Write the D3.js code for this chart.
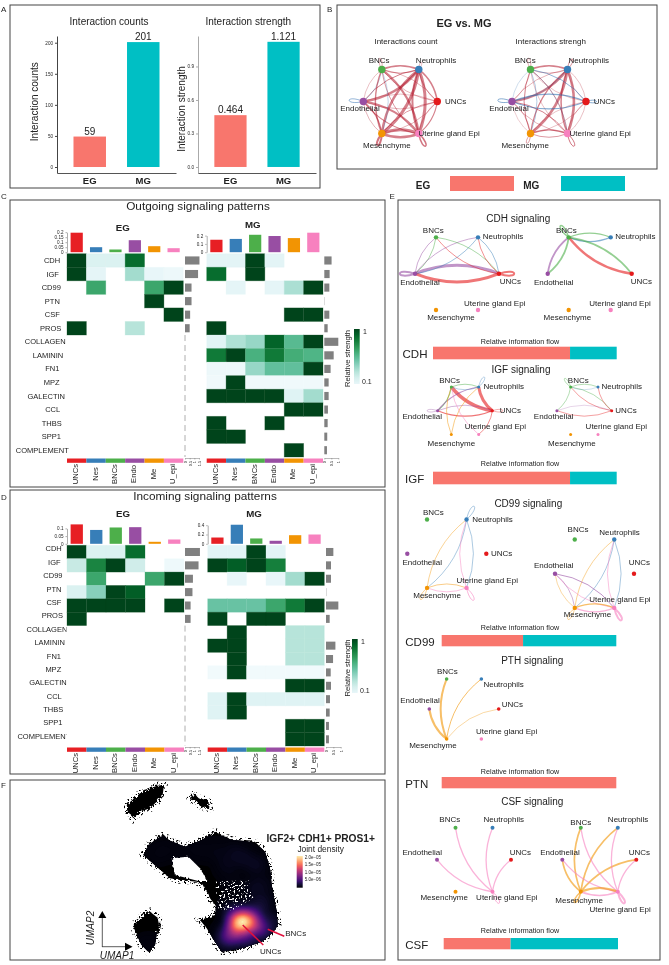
<!DOCTYPE html>
<html>
<head>
<meta charset="utf-8">
<script src="https://cdn.jsdelivr.net/npm/d3@7"></script>
<style>
body { margin: 0; background: #fff; }
svg { display: block; font-family: "Liberation Sans", Arial, sans-serif; filter: blur(0.3px); }
text { fill: #222; }
</style>
</head>
<body>
<script>
// ---- panel A
var groups = ["EG", "MG"];
var groupColors = ["#F8766D", "#00BFC4"];
var countBars = [49, 201];
var countLabels = ["59", "201"];
var strengthBars = [0.464, 1.121];
var strengthLabels = ["0.464", "1.121"];

// ---- panels C, D
var cellTypes = ["UNCs", "Nes", "BNCs", "Endo", "Me", "U_epi"];
var cellColors = ["#E71F24", "#377EB8", "#4DAF4A", "#984EA3", "#F29403", "#F781BF"];
var signals = ["CDH", "IGF", "CD99", "PTN", "CSF", "PROS", "COLLAGEN", "LAMININ", "FN1", "MPZ", "GALECTIN", "CCL", "THBS", "SPP1", "COMPLEMENT"];

var outEG = [
  [1, .17, .17, .87, 0, 0],
  [1, .12, 0, .35, .1, .07],
  [0, .65, 0, 0, .65, 1],
  [0, 0, 0, 0, 1, 0],
  [0, 0, 0, 0, 0, 1],
  [1, 0, 0, .3, 0, 0]
];
var outEGTop = [.195, .05, .027, .12, .06, .04];
var outEGRight = [1.55, 1.4, .7, .7, .55, .5];

var outMG = [
  [.13, .13, 1, .13, 0, 0],
  [.87, 0, 1, 0, 0, 0],
  [0, .12, 0, .12, .33, 1],
  [0, 0, 0, 0, 0, 0],
  [0, 0, 0, 0, 1, 1],
  [1, 0, 0, 0, 0, 0],
  [.14, .32, .38, .9, .55, 1],
  [.82, 1, .6, .82, .62, .58],
  [.07, .07, .38, .52, .52, 1],
  [.05, 1, .05, .05, .05, .05],
  [1, 1, 1, 1, .15, .35],
  [0, 0, 0, 0, 1, 1],
  [1, 0, 0, 1, 0, 0],
  [1, 1, 0, 0, 0, 0],
  [0, 0, 0, 0, 1, 0]
];
var outMGTop = [.15, .16, .21, .195, .17, .235];
var outMGRight = [.52, .38, .36, .02, .36, .24, 1, .67, .45, .31, .31, .26, .24, .21, .19];

var inEG = [
  [1, .17, .17, .87, 0, 0],
  [.25, .78, 1, .22, 0, .06],
  [0, .65, 0, 0, .65, 1],
  [.17, .42, 1, .92, 0, 0],
  [1, 1, 1, 1, 0, 1],
  [1, 0, 0, 0, 0, 0]
];
var inEGTop = [.126, .09, .106, .108, .013, .028];
var inEGRight = [1.6, 1.45, .85, .8, .6, .6];

var inMG = [
  [.13, .13, 1, .13, 0, 0],
  [1, .92, 1, .8, 0, 0],
  [0, .1, 0, .1, .35, 1],
  [0, 0, 0, 0, 0, 0],
  [.5, .5, .5, .65, .82, 1],
  [1, 0, 1, 1, 0, 0],
  [0, 1, 0, 0, .3, .3],
  [1, 1, 0, 0, .3, .3],
  [0, 1, 0, 0, .3, .3],
  [.04, 1, .04, .04, .04, .04],
  [0, 0, 0, 0, 1, 1],
  [.15, 1, .15, .15, .15, .15],
  [.15, 1, 0, 0, 0, 0],
  [0, 0, 0, 0, 1, 1],
  [0, 0, 0, 0, 1, 1]
];
var inMGTop = [.135, .41, .115, .065, .185, .2];
var inMGRight = [.5, .34, .34, .02, .84, .25, 0, .64, .48, .32, .34, .27, .25, .2, .2];

// ---- networks, edges are [source, target, width], negative = decreased (blue)
var nodeNames = ["UNCs", "Neutrophils", "BNCs", "Endothelial", "Mesenchyme", "Uterine gland Epi"];
var nodeColors = ["#E41A1C", "#377EB8", "#4DAF4A", "#984EA3", "#F29403", "#F781BF"];
var nodeAngles = [0, 60, 120, 180, 240, 300];

var countEdges = [[1,4,3],[4,1,2.4],[1,5,3],[5,1,2],[1,3,2.4],[3,1,1],[2,5,2.2],[5,2,.8],[3,5,2.2],[5,3,1.2],[4,5,3],[5,4,2.4],[2,1,1.6],[1,2,.8],[1,0,1.6],[0,1,.8],[0,5,1.2],[5,0,.6],[4,0,.8],[0,4,.6],[0,2,.6],[2,0,.6],[0,3,.6],[3,0,.5],[3,4,1.2],[4,3,.6],[2,3,-.5],[3,2,.5],[2,4,-.5],[4,2,1.4]];
var countLoops = [[2,.6,100,12],[3,-.8,175,15],[4,2,250,13],[5,1.5,298,15],[1,.5,70,8]];
var strengthEdges = [[1,4,2.6],[1,3,2.2],[3,1,.6],[1,5,2.6],[5,1,1.5],[2,5,.8],[5,2,.5],[4,1,1.2],[2,1,1.4],[1,2,.6],[3,5,1],[5,3,.6],[4,5,1.2],[5,4,.8],[3,4,.6],[4,3,.4],[1,0,.5],[0,1,.4],[0,5,.5],[5,0,.5],[0,4,.5],[4,0,.5],[2,4,-.6],[4,2,1],[3,2,-.4],[2,3,.4],[2,0,-.9],[0,2,.5],[3,0,-1.2],[0,3,-1.2],[2,5,-.4],[1,3,-.5]];
var strengthLoops = [[2,.6,100,12],[1,.8,65,12],[3,-.9,175,15],[0,-.9,0,11],[4,.7,250,11],[5,1,298,15]];

var cdhEGEdges = [[3,0,3],[0,3,3],[2,3,.8],[3,2,.8],[1,3,.8],[3,1,.8],[2,0,.8],[0,2,.8],[1,0,.8],[0,1,.8]];
var cdhEGLoops = [[3,2,180,16],[0,2,0,16]];
var cdhMGEdges = [[2,1,1.2],[1,2,1.2],[2,3,1.8],[3,2,1.8],[2,0,1.8],[0,2,2.4]];
var cdhMGLoops = [[2,1.4,125,15]];
var igfEGEdges = [[0,2,3.6],[0,1,3],[2,3,1.2],[3,1,1.2],[0,3,1.2],[3,0,.7],[2,1,.8],[1,2,.6],[4,1,.8],[4,2,.8],[5,2,.8],[0,5,.8]];
var igfEGLoops = [[1,.6,60,12],[3,.6,180,11],[0,.6,0,11]];
var igfMGEdges = [[2,0,.7],[0,2,.7],[2,1,.7],[1,2,.4],[0,1,.7],[2,3,.7],[0,3,.7],[3,0,.4]];
var igfMGLoops = [[2,.7,125,11]];
var cd99EGEdges = [[1,4,.7],[4,1,.7],[1,5,.7],[5,1,.8],[4,5,.8],[5,4,.8]];
var cd99EGLoops = [[1,.7,60,16],[5,1,300,15],[4,.7,240,14]];
var cd99MGEdges = [[1,4,.7],[4,1,.7],[1,5,.7],[5,1,.8],[3,5,1],[5,3,.8],[3,4,.7],[4,3,.6],[4,5,1.2],[5,4,1.2]];
var cd99MGLoops = [[5,2,300,15],[4,.7,240,14]];
var ptnEGEdges = [[4,2,2],[4,3,2],[4,1,1],[4,0,.6]];
var csfEGEdges = [[5,2,1.3],[5,1,1.3],[5,3,1.3],[5,0,1.3]];
var csfEGLoops = [[5,1,300,14]];
var csfMGEdges = [[4,2,1.7],[4,1,1.7],[4,3,1.7],[4,0,1.7],[5,2,1.3],[5,1,1.3],[5,3,1.3],[5,0,1.3],[4,5,2],[5,4,1.5]];
var csfMGLoops = [[5,2,300,14],[4,1.5,240,13]];

// share of the information flow held by EG
var flowNames = ["CDH", "IGF", "CD99", "PTN", "CSF"];
var flowEG = [.746, .746, .466, 1, .384];

// ---- panel F, outlines and density points
var umapBlobs = [
  [[380,90],[420,55],[470,32],[492,30],[488,60],[470,80],[450,100],[420,110],[400,130],[385,110]],
  [[570,68],[582,58],[600,72],[625,75],[628,100],[605,97],[590,78],[572,74]],
  [[405,445],[430,420],[450,410],[475,430],[480,450],[470,480],[465,510],[445,530],[425,510],[410,480],[402,460]]
];
var umapMain = [[430,240],[445,210],[490,178],[505,195],[555,215],[605,195],[645,170],[695,195],[765,200],[795,230],[810,280],[815,330],[830,410],[833,450],[820,470],[785,500],[725,520],[665,530],[645,500],[620,460],[600,435],[645,420],[645,390],[630,370],[610,330],[590,320],[540,315],[510,310],[475,280]];
var umapHole = [[515,250],[565,245],[600,280],[622,318],[595,318],[525,300]];
var umapSpeckle = [[645,320],[745,315],[760,370],[690,410],[655,400]];
var densityPoints = [[715,442,14],[750,442,9],[735,425,4],[695,475,3.5],[725,480,3],[770,455,2],[790,465,2],[770,405,1.2],[810,440,.8],[680,490,2],[700,410,1.2],[750,490,1.2],
  [730,250,.5],[770,270,.5],[680,270,.3],[700,230,.3],[760,340,.4],[790,330,.3],[790,380,.5],[650,230,.2],[600,225,.15],[550,225,.1],[500,225,.1],[470,235,.1],[445,515,.2],[700,320,.15]];
var densityTicks = ["2.0e\u221205", "1.5e\u221205", "1.0e\u221205", "5.0e\u221206"];

var svg = d3.select("body").append("svg").attr("width", 669).attr("height", 965);
var defs = svg.append("defs");

function box(x0, y0, x1, y1) {
  svg.append("rect").attr("x", x0).attr("y", y0).attr("width", x1 - x0).attr("height", y1 - y0)
    .attr("fill", "none").attr("stroke", "#444").attr("stroke-width", 1);
}
function label(g, x, y, s, size, opt) {
  opt = opt || {};
  return g.append("text").attr("x", x).attr("y", y).text(s)
    .attr("font-size", size)
    .attr("text-anchor", opt.anchor || "middle")
    .attr("font-weight", opt.bold ? "bold" : null)
    .attr("font-style", opt.italic ? "italic" : null)
    .attr("dominant-baseline", opt.base || null)
    .attr("transform", opt.rotate ? "rotate(" + opt.rotate + " " + x + " " + y + ")" : null);
}

box(10, 5, 320, 188);
box(337, 5, 657, 169);
box(10, 200, 385, 487);
box(10, 490, 385, 774);
box(10, 780, 385, 960);
box(398, 200, 660, 960);

label(svg, 1, 12, "A", 8, {anchor: "start"});
label(svg, 327, 12, "B", 8, {anchor: "start"});
label(svg, 1, 199, "C", 8, {anchor: "start"});
label(svg, 1, 500, "D", 8, {anchor: "start"});
label(svg, 389.5, 199, "E", 8, {anchor: "start"});
label(svg, 1, 788, "F", 8, {anchor: "start"});

// ---- A, bar charts
function barChart(x0, x1, domain, ticks, fmt, values, labels, title, titleX, axisX, axisY, axisColor) {
  var g = svg.append("g");
  var x = d3.scaleBand().domain(groups).range([x0, x1]).paddingInner(.393).paddingOuter(.308);
  var y = d3.scaleLinear().domain(domain).range([173, 36]);
  g.selectAll("rect").data(values).enter().append("rect")
    .attr("x", function(d, i) { return x(groups[i]); })
    .attr("width", x.bandwidth())
    .attr("y", function(d) { return y(d); })
    .attr("height", function(d) { return y(0) - y(d); })
    .attr("fill", function(d, i) { return groupColors[i]; });
  g.selectAll("text.v").data(values).enter().append("text").attr("class", "v")
    .attr("x", function(d, i) { return x(groups[i]) + x.bandwidth() / 2; })
    .attr("y", function(d) { return y(d) - 2; })
    .attr("text-anchor", "middle").attr("font-size", 10)
    .text(function(d, i) { return labels[i]; });
  var ay = g.append("g").attr("transform", "translate(" + x0 + ",0)")
    .call(d3.axisLeft(y).tickValues(ticks).tickFormat(fmt).tickSize(2).tickSizeOuter(0));
  ay.selectAll("text").attr("font-size", 4.6).attr("font-family", null).attr("dx", 1);
  ay.selectAll("path,line").attr("stroke", axisColor);
  var ax = g.append("g").attr("transform", "translate(0,173)")
    .call(d3.axisBottom(x).tickSize(0).tickPadding(4));
  ax.selectAll("text").attr("font-size", 9.5).attr("font-weight", "bold").attr("font-family", null);
  ax.selectAll("path").attr("stroke", "#555");
  label(g, titleX, 25, title, 10);
  label(g, axisX, axisY, title, 10, {rotate: -90, base: "central"});
}
barChart(57, 176, [-9.65, 210.8], [0, 50, 100, 150, 200], d3.format("d"), countBars, countLabels, "Interaction counts", 109, 35, 101.7, "#444");
barChart(198, 316, [-.054, 1.173], [0, .3, .6, .9], d3.format(".1f"), strengthBars, strengthLabels, "Interaction strength", 248.3, 181.7, 109, "#aaa");

// ---- networks
function network(o) {
  var g = svg.append("g");
  var pos = nodeAngles.map(function(a) {
    var t = a * Math.PI / 180;
    return [o.cx + o.r * Math.cos(t), o.cy - o.r * Math.sin(t)];
  });
  function edgeColor(src, w) {
    if (!o.diff) return nodeColors[src];
    return w > 0 ? "#B2182B" : "#2166AC";
  }
  var edge = function(e) {
    var a = pos[e[0]], b = pos[e[1]];
    var dx = b[0] - a[0], dy = b[1] - a[1];
    var cx = (a[0] + b[0]) / 2 + .2 * dy, cy = (a[1] + b[1]) / 2 - .2 * dx;
    return "M" + a[0] + "," + a[1] + "Q" + cx + "," + cy + " " + b[0] + "," + b[1];
  };
  g.selectAll("path.edge").data(o.edges).enter().append("path").attr("class", "edge")
    .attr("d", edge).attr("fill", "none")
    .attr("stroke", function(e) { return edgeColor(e[0], e[2]); })
    .attr("stroke-width", function(e) { return Math.abs(e[2]); })
    .attr("stroke-opacity", o.diff ? .55 : .6);
  var loop = function(l) {
    var p = pos[l[0]], t = l[2] * Math.PI / 180, s = .32, L = l[3] / .75;
    var c1 = [p[0] + L * Math.cos(t + s), p[1] - L * Math.sin(t + s)];
    var c2 = [p[0] + L * Math.cos(t - s), p[1] - L * Math.sin(t - s)];
    return "M" + p + "C" + c1 + " " + c2 + " " + p;
  };
  g.selectAll("path.loop").data(o.loops || []).enter().append("path").attr("class", "loop")
    .attr("d", loop).attr("fill", "none")
    .attr("stroke", function(l) { return edgeColor(l[0], l[1]); })
    .attr("stroke-width", function(l) { return Math.abs(l[1]); })
    .attr("stroke-opacity", .6);
  g.selectAll("circle").data(pos).enter().append("circle")
    .attr("cx", function(d) { return d[0]; }).attr("cy", function(d) { return d[1]; })
    .attr("r", o.nodeR).attr("fill", function(d, i) { return nodeColors[i]; });
  g.selectAll("text").data(pos).enter().append("text")
    .attr("x", function(d, i) { return d[0] + o.labels[i][0]; })
    .attr("y", function(d, i) { return d[1] + o.labels[i][1]; })
    .attr("text-anchor", "middle").attr("dominant-baseline", "central").attr("font-size", 8)
    .text(function(d, i) { return nodeNames[i]; });
}

label(svg, 464, 27, "EG vs. MG", 11, {bold: true});
label(svg, 406, 44, "Interactions count", 8);
label(svg, 550.7, 44, "Interactions strengh", 8);
network({cx: 400.3, cy: 101.5, r: 37, nodeR: 3.7, diff: true, edges: countEdges, loops: countLoops,
  labels: [[18.3,0],[17.3,-8.7],[-2.7,-8.7],[-3.3,7.3],[5,12],[30.3,0]]});
network({cx: 549, cy: 101.5, r: 37, nodeR: 3.7, diff: true, edges: strengthEdges, loops: strengthLoops,
  labels: [[18.3,0],[21.3,-8.7],[-5.3,-8.7],[-3,7.3],[-5.3,12],[32.7,0]]});

groups.forEach(function(gr, i) {
  label(svg, [423, 531.3][i], 189, gr, 10, {bold: true});
  svg.append("rect").attr("x", [450, 561][i]).attr("y", 176).attr("width", 64).attr("height", 15)
    .attr("fill", groupColors[i]);
});

label(svg, 518.3, 222, "CDH signaling", 10);
network({cx: 457, cy: 273.7, r: 42, nodeR: 2.2, edges: cdhEGEdges, loops: cdhEGLoops,
  labels: [[11.3,7.3],[25,-.7],[-2.7,-7],[5,8.7],[15,7],[16.7,-7]]});
network({cx: 589.7, cy: 273.7, r: 42, nodeR: 2.2, edges: cdhMGEdges, loops: cdhMGLoops,
  labels: [[9.7,7.3],[24.7,-.7],[-2.3,-7],[6,8.7],[-1.3,7],[9.3,-7]]});
label(svg, 521, 373, "IGF signaling", 10);
network({cx: 465, cy: 410.7, r: 27.4, nodeR: 1.5, edges: igfEGEdges, loops: igfEGLoops,
  labels: [[18,0],[25,0],[-1.7,-6.7],[-15.3,5.7],[0,9.3],[16.7,-8.3]]});
network({cx: 584.3, cy: 410.7, r: 27.4, nodeR: 1.5, edges: igfMGEdges, loops: igfMGLoops,
  labels: [[14.3,0],[23.7,0],[7.7,-6.7],[-3.3,5.7],[1.3,9.3],[18.3,-8.3]]});
label(svg, 528.3, 506.5, "CD99 signaling", 10);
network({cx: 446.8, cy: 553.7, r: 39.5, nodeR: 2.2, edges: cd99EGEdges, loops: cd99EGLoops,
  labels: [[15.3,0],[26,0],[6.3,-7],[15,8.7],[10,7.7],[20.7,-7.7]]});
network({cx: 594.5, cy: 573.7, r: 39.5, nodeR: 2.2, edges: cd99MGEdges, loops: cd99MGLoops,
  labels: [[5.3,-11.3],[5.3,-7],[3.3,-9.7],[-1.3,-8.3],[12.7,6.7],[5.7,-8.7]]});
label(svg, 532.3, 664, "PTH signaling", 10);
network({cx: 464, cy: 709, r: 34.7, nodeR: 1.8, edges: ptnEGEdges,
  labels: [[13.7,-4.7],[22.3,5.3],[.7,-7.7],[-9.3,-9],[-13.7,6.3],[25.3,-7.7]]});
label(svg, 532.3, 804.5, "CSF signaling", 10);
network({cx: 474, cy: 859.7, r: 37, nodeR: 2, edges: csfEGEdges, loops: csfEGLoops,
  labels: [[9.3,-7.3],[11.3,-7.7],[-5.7,-7.7],[-14.7,-7.7],[-11.3,5.7],[14.3,5.7]]});
network({cx: 599.3, cy: 859.7, r: 37, nodeR: 2, edges: csfMGEdges, loops: csfMGLoops,
  labels: [[3,-7.3],[10.3,-7.7],[0,-5],[-2.3,-7.7],[-1.7,8.3],[2.3,18]]});

// ---- relative information flow bars
var flowLayout = [
  {x0: 433, x1: 616.7, y0: 346.7, y1: 359.3, textY: 343.5, nameX: 415, size: 11.5},
  {x0: 433, x1: 616.7, y0: 471.7, y1: 484.3, textY: 465.5, nameX: 414.7, size: 11.5},
  {x0: 441.7, x1: 616.3, y0: 635, y1: 646.3, textY: 630, nameX: 420, size: 11.5},
  {x0: 441.7, x1: 616.3, y0: 777, y1: 788.3, textY: 774.2, nameX: 416.7, size: 11.5},
  {x0: 443.7, x1: 618, y0: 938, y1: 949.3, textY: 932.7, nameX: 416.7, size: 11.5}
];
flowNames.forEach(function(name, i) {
  var l = flowLayout[i];
  var x = d3.scaleLinear().domain([0, 1]).range([l.x0, l.x1]);
  var parts = [[0, flowEG[i]], [flowEG[i], 1]];
  svg.selectAll(null).data(parts).enter().append("rect")
    .attr("x", function(d) { return x(d[0]); })
    .attr("width", function(d) { return x(d[1]) - x(d[0]); })
    .attr("y", l.y0).attr("height", l.y1 - l.y0)
    .attr("fill", function(d, j) { return groupColors[j]; });
  label(svg, 520, l.textY, "Relative information flow", 7.2);
  label(svg, l.nameX, (l.y0 + l.y1) / 2 + 1, name, l.size, {base: "central"});
});

// ---- C, D heatmaps
var heatColor = d3.scaleSequential(d3.interpolateBuGn).domain([0, 1]);

function heatmap(o) {
  var g = svg.append("g");
  var x = d3.scaleBand().domain(cellTypes).range([o.x0, o.x1]);
  var y = d3.scaleBand().domain(signals).range([o.y0, o.y1]);
  var cells = [];
  o.matrix.forEach(function(row, r) {
    row.forEach(function(v, c) { if (v > 0) cells.push({r: r, c: c, v: v}); });
  });
  g.selectAll("rect.cell").data(cells).enter().append("rect").attr("class", "cell")
    .attr("x", function(d) { return x(cellTypes[d.c]); })
    .attr("y", function(d) { return y(signals[d.r]); })
    .attr("width", x.bandwidth()).attr("height", y.bandwidth())
    .attr("fill", function(d) { return heatColor(d.v); })
    .attr("stroke", function(d) { return heatColor(d.v); })
    .attr("stroke-opacity", .35).attr("stroke-width", .8);

  // coloured strip and column names
  g.selectAll("rect.strip").data(cellTypes).enter().append("rect").attr("class", "strip")
    .attr("x", function(d) { return x(d); }).attr("width", x.bandwidth())
    .attr("y", o.y1 + 1.5).attr("height", 4.3)
    .attr("fill", function(d, i) { return cellColors[i]; });
  g.selectAll("text.col").data(cellTypes).enter().append("text").attr("class", "col")
    .attr("font-size", 7.6).attr("text-anchor", "middle").attr("dominant-baseline", "central")
    .attr("transform", function(d) { return "translate(" + (x(d) + x.bandwidth() / 2 - 1) + "," + (o.y1 + 17) + ") rotate(-90)"; })
    .text(function(d) { return d; });

  // top bars
  var yTop = d3.scaleLinear().domain([0, o.topMax]).range([o.y0 - 1.5, o.y0 - 1.5 - o.topH]);
  var bw = x.bandwidth() * .63;
  g.selectAll("rect.top").data(o.top).enter().append("rect").attr("class", "top")
    .attr("x", function(d, i) { return x(cellTypes[i]) + (x.bandwidth() - bw) / 2; })
    .attr("width", bw)
    .attr("y", function(d) { return yTop(d); })
    .attr("height", function(d) { return yTop(0) - yTop(d); })
    .attr("fill", function(d, i) { return cellColors[i]; });
  var axT = g.append("g").attr("transform", "translate(" + o.x0 + ",0)")
    .call(d3.axisLeft(yTop).tickValues(o.topTicks).tickFormat(d3.format("~g")).tickSize(1.5).tickSizeOuter(0));
  axT.selectAll("text").attr("font-size", 4.6).attr("font-family", null).attr("dx", 1);
  axT.selectAll("path,line").attr("stroke", "#777").attr("stroke-width", .6);

  // right bars
  var xR = d3.scaleLinear().domain([0, o.rightMax]).range([o.rx, o.rx + o.rightW]);
  var rh = y.bandwidth() * .6;
  g.selectAll("rect.right").data(o.right).enter().append("rect").attr("class", "right")
    .attr("x", o.rx)
    .attr("y", function(d, i) { return y(signals[i]) + (y.bandwidth() - rh) / 2; })
    .attr("width", function(d) { return xR(d) - o.rx; })
    .attr("height", rh).attr("fill", "#808080");
  if (o.dashed) {
    g.append("line").attr("x1", o.rx).attr("x2", o.rx)
      .attr("y1", y(signals[o.right.length])).attr("y2", o.y1)
      .attr("stroke", "#999").attr("stroke-dasharray", "6,4").attr("stroke-width", .8);
  }
  var axR = g.append("g").attr("transform", "translate(0," + (o.y1 + 1) + ")")
    .call(d3.axisBottom(xR).tickValues(o.rightTicks).tickFormat(d3.format("~g")).tickSize(1.5).tickSizeOuter(0));
  axR.selectAll("path,line").attr("stroke", "#777").attr("stroke-width", .5);
  axR.selectAll("text").attr("font-size", 3.8).attr("font-family", null)
    .attr("transform", "rotate(-90)").attr("x", -3).attr("y", 0).attr("dy", ".35em").attr("text-anchor", "end");
}

function rowLabels(y0, y1, dx, dy, clipId, clipW) {
  var centers = [52, 52.7, 51.3, 52.3, 52.3, 50.7, 45.3, 48, 52.3, 51.7, 46.3, 52.7, 51.7, 51.3, 42.3];
  var y = d3.scaleBand().domain(signals).range([y0, y1]);
  defs.append("clipPath").attr("id", clipId).append("rect")
    .attr("x", 0).attr("y", y0 - 10).attr("width", clipW).attr("height", y1 - y0 + 20);
  var g = svg.append("g").attr("clip-path", "url(#" + clipId + ")");
  g.selectAll("text").data(signals).enter().append("text")
    .attr("x", function(d, i) { return centers[i] + dx; })
    .attr("y", function(d) { return y(d) + y.bandwidth() / 2 + dy; })
    .attr("text-anchor", "middle").attr("dominant-baseline", "central").attr("font-size", 7.5)
    .text(function(d) { return d; });
}

function colorKey(id, x, y0, y1, textX) {
  var gr = defs.append("linearGradient").attr("id", id).attr("x1", 0).attr("x2", 0).attr("y1", 1).attr("y2", 0);
  d3.range(.1, 1.01, .1).forEach(function(t) {
    gr.append("stop").attr("offset", (t - .1) / .9).attr("stop-color", heatColor(t));
  });
  svg.append("rect").attr("x", x).attr("y", y0).attr("width", 5.7).attr("height", y1 - y0).attr("fill", "url(#" + id + ")");
  label(svg, x + 9, y0 + 2.5, "1", 7, {anchor: "start", base: "central"});
  label(svg, x + 8, y1 - 2.5, "0.1", 7, {anchor: "start", base: "central"});
  label(svg, textX, (y0 + y1) / 2 + 2, "Relative strength", 7.6, {rotate: -90, base: "central"});
}

label(svg, 198, 210, "Outgoing signaling patterns", 11.8);
label(svg, 122.7, 231, "EG", 9.7, {bold: true});
label(svg, 252.7, 227.5, "MG", 9.7, {bold: true});
rowLabels(253.7, 457, 0, 0, "rowsC", 90);
heatmap({x0: 67, x1: 183.3, y0: 253.7, y1: 457, matrix: outEG, top: outEGTop, topMax: .2, topH: 20,
  topTicks: [0, .05, .1, .15, .2], right: outEGRight, rx: 185, rightMax: 1.5, rightW: 14, rightTicks: [0, .5, 1, 1.5], dashed: true});
heatmap({x0: 206.7, x1: 323, y0: 253.7, y1: 457, matrix: outMG, top: outMGTop, topMax: .2, topH: 16.6,
  topTicks: [0, .1, .2], right: outMGRight, rx: 324.3, rightMax: 1, rightW: 14, rightTicks: [0, .5, 1]});
colorKey("keyC", 354, 329, 384, 347.7);

label(svg, 205, 500, "Incoming signaling patterns", 11.8);
label(svg, 123, 517, "EG", 9.7, {bold: true});
label(svg, 254, 517, "MG", 9.7, {bold: true});
rowLabels(545.3, 746, 1.6, -3, "rowsD", 66.5);
heatmap({x0: 67, x1: 184, y0: 545.3, y1: 746, matrix: inEG, top: inEGTop, topMax: .1, topH: 15.4,
  topTicks: [0, .05, .1], right: inEGRight, rx: 185, rightMax: 1.5, rightW: 14, rightTicks: [0, .5, 1, 1.5], dashed: true});
heatmap({x0: 207.7, x1: 324.3, y0: 545.3, y1: 746, matrix: inMG, top: inMGTop, topMax: .4, topH: 18.6,
  topTicks: [0, .2, .4], right: inMGRight, rx: 326, rightMax: 1, rightW: 14.7, rightTicks: [0, .5, 1]});
colorKey("keyD", 352, 639, 693, 347);

// ---- F, umap, drawn in crop units of 3 per pixel
var rough = defs.append("filter").attr("id", "rough").attr("filterUnits", "userSpaceOnUse")
  .attr("x", 0).attr("y", 0).attr("width", 1185).attr("height", 570);
rough.append("feTurbulence").attr("type", "fractalNoise").attr("baseFrequency", .14).attr("numOctaves", 2).attr("seed", 4).attr("result", "n");
rough.append("feDisplacementMap").attr("in", "SourceGraphic").attr("in2", "n").attr("scale", 16);

var speck = defs.append("filter").attr("id", "speck").attr("filterUnits", "userSpaceOnUse")
  .attr("x", 0).attr("y", 0).attr("width", 1185).attr("height", 570);
speck.append("feTurbulence").attr("type", "fractalNoise").attr("baseFrequency", .17).attr("numOctaves", 3).attr("seed", 9).attr("result", "n");
speck.append("feColorMatrix").attr("in", "n").attr("type", "matrix")
  .attr("values", "0 0 0 0 0  0 0 0 0 0  0 0 0 0 0  14 0 0 0 -8.2").attr("result", "m");
speck.append("feComposite").attr("in", "SourceGraphic").attr("in2", "m").attr("operator", "in");

var umap = svg.append("g").attr("transform", "translate(0,775) scale(" + 1 / 3 + ")");
var outline = d3.line().curve(d3.curveLinearClosed);

// dotted halo around the cell clouds
umap.append("g").attr("filter", "url(#speck)").selectAll("path")
  .data(umapBlobs.concat([umapMain])).enter().append("path")
  .attr("d", outline).attr("fill", "#000").attr("stroke", "#000").attr("stroke-width", 22);
umap.append("g").attr("filter", "url(#rough)").selectAll("path")
  .data(umapBlobs.concat([umapMain])).enter().append("path")
  .attr("d", outline).attr("fill", "#000");

var dens = d3.contourDensity()
  .x(function(d) { return d[0]; }).y(function(d) { return d[1]; })
  .weight(function(d) { return d[2]; })
  .size([1185, 570]).bandwidth(18);
var densMax = d3.max(dens.thresholds(60)(densityPoints), function(c) { return c.value; });
// squared steps, so the dim body of the cloud still gets soft contours
var contours = dens.thresholds(d3.range(1, 41).map(function(i) { return densMax * i * i / 1600; }))(densityPoints);
var densT = d3.scaleLinear()
  .domain([0, .03, .15, .4, .8, 1].map(function(t) { return t * densMax; }))
  .range([.02, .07, .2, .45, .8, .97]);
defs.append("clipPath").attr("id", "umapClip").selectAll("path")
  .data([umapMain, umapBlobs[2]]).enter().append("path").attr("d", outline);
umap.append("g").attr("clip-path", "url(#umapClip)").selectAll("path")
  .data(contours).enter().append("path")
  .attr("d", d3.geoPath()).attr("fill", function(c) { return d3.interpolateMagma(densT(c.value)); });

umap.append("path").datum(umapHole).attr("d", outline).attr("fill", "#fff").attr("filter", "url(#rough)");
umap.append("g").attr("filter", "url(#speck)").append("path").datum(umapSpeckle)
  .attr("d", outline).attr("fill", "#fff");

svg.append("line").attr("x1", 267.7).attr("y1", 929.3).attr("x2", 284.3).attr("y2", 936.3).attr("stroke", "#E0103C").attr("stroke-width", 1.5);
svg.append("line").attr("x1", 242.7).attr("y1", 925).attr("x2", 263.3).attr("y2", 945).attr("stroke", "#E0103C").attr("stroke-width", 1.5);
label(svg, 295.7, 933.7, "BNCs", 8, {base: "central"});
label(svg, 270.7, 951, "UNCs", 8, {base: "central"});

label(svg, 320.7, 838.5, "IGF2+ CDH1+ PROS1+", 10.2, {bold: true, base: "central"});
label(svg, 320.7, 848.5, "Joint density", 8.4, {base: "central"});
var kg = defs.append("linearGradient").attr("id", "keyF").attr("x1", 0).attr("x2", 0).attr("y1", 1).attr("y2", 0);
d3.range(0, 1.01, .1).forEach(function(t) {
  kg.append("stop").attr("offset", t).attr("stop-color", d3.interpolateMagma(t * .96));
});
svg.append("rect").attr("x", 296.7).attr("y", 856).attr("width", 6).attr("height", 31.7).attr("fill", "url(#keyF)");
densityTicks.forEach(function(t, i) {
  label(svg, 304.7, 857 + i * 7.65, t, 4.5, {anchor: "start", base: "central"});
});

svg.append("line").attr("x1", 102.3).attr("y1", 947).attr("x2", 102.3).attr("y2", 917).attr("stroke", "#333").attr("stroke-width", .8);
svg.append("line").attr("x1", 102).attr("y1", 946.7).attr("x2", 126).attr("y2", 946.7).attr("stroke", "#333").attr("stroke-width", .8);
svg.append("path").attr("d", d3.line()([[98.3,918],[106.3,918],[102.3,911]])).attr("fill", "#000");
svg.append("path").attr("d", d3.line()([[125,942.7],[125,950.7],[132.5,946.7]])).attr("fill", "#000");
label(svg, 90.7, 928, "UMAP2", 10, {italic: true, rotate: -90, base: "central"});
label(svg, 117, 955.7, "UMAP1", 10, {italic: true, base: "central"});
</script>
</body>
</html>
